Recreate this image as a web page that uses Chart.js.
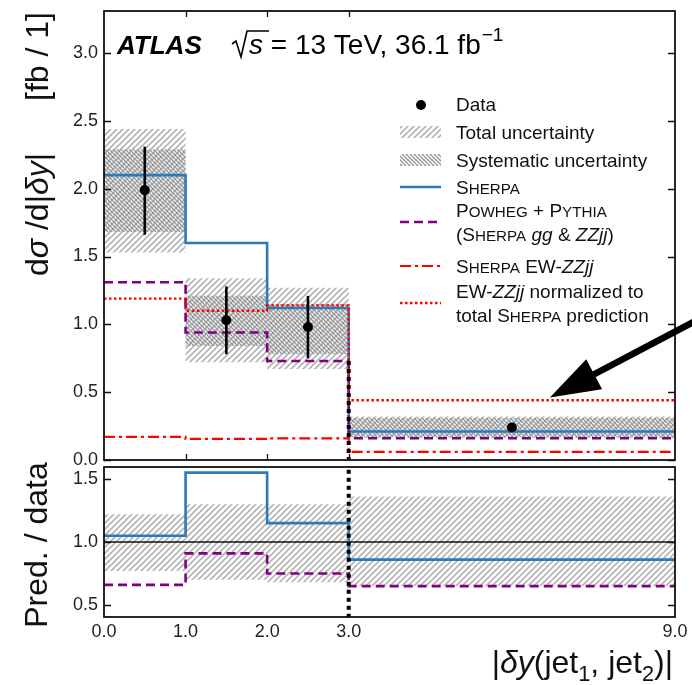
<!DOCTYPE html>
<html>
<head>
<meta charset="utf-8">
<script src="https://cdn.jsdelivr.net/npm/chart.js@4.4.1/dist/chart.umd.min.js"></script>
<style>
  body { margin: 0; background: #fff; }
  #wrap { position: relative; width: 692px; height: 685px; }
  canvas { position: absolute; left: 0; }
  #top { top: 0; }
  #ratio { top: 430px; }
</style>
</head>
<body>
<div id="wrap">
  <canvas id="top" width="692" height="465"></canvas>
  <canvas id="ratio" width="692" height="255"></canvas>
</div>
<script>
// bins in |dy(jet1, jet2)|
const binEdges = [0, 1, 2, 3, 9];
const xTickValues = [0, 1, 2, 3, 9];
const xTickLabels = ['0.0', '1.0', '2.0', '3.0', '9.0'];

// measured cross section
const dataCentres = [0.5, 1.5, 2.5, 6.0];
const dataValues = [1.99, 1.03, 0.98, 0.24];
const dataErrLow = [1.66, 0.78, 0.75, 0.22];
const dataErrHigh = [2.31, 1.28, 1.21, 0.27];

// uncertainty bands
const totalLow = [1.53, 0.72, 0.67, 0.16];
const totalHigh = [2.44, 1.34, 1.27, 0.32];
const systLow = [1.68, 0.84, 0.78, 0.17];
const systHigh = [2.29, 1.21, 1.15, 0.31];

// predictions
const sherpa = [2.10, 1.60, 1.12, 0.21];
const powheg = [1.31, 0.94, 0.73, 0.16];
const sherpaEW = [0.17, 0.155, 0.16, 0.06];
const ewNormalized = [1.19, 1.10, 1.14, 0.44];

// ratio panel
const ratioTotalLow = [0.77, 0.70, 0.68, 0.65];
const ratioTotalHigh = [1.22, 1.30, 1.30, 1.36];
const ratioSherpa = [1.05, 1.55, 1.15, 0.86];
const ratioPowheg = [0.66, 0.91, 0.75, 0.65];

const topYTicks = [0, 0.5, 1, 1.5, 2, 2.5, 3];
const topYLabels = ['0.0', '0.5', '1.0', '1.5', '2.0', '2.5', '3.0'];
const ratioYTicks = [0.5, 1, 1.5];
const ratioYLabels = ['0.5', '1.0', '1.5'];

// dotted marker at the last bin edge, and the arrow pointing at the normalized line
const cutX = 3;
const cutTop = 0.73;
const arrowFrom = { x: 9.4, y: 1.03 };
const arrowTo = { x: 6.7, y: 0.46 };

const FONT = '"Liberation Sans", Arial, Helvetica, sans-serif';
const BLUE = '#2b7bba';
const PURPLE = '#800080';
const RED = '#ff0000';

// the wide 3-9 bin is drawn compressed: 1.5 units of |dy| per axis unit
const axisX = v => (v <= 3 ? v : 3 + (v - 3) / 1.5);

function steps(values) {
  return binEdges.map((e, i) => ({ x: axisX(e), y: values[Math.min(i, values.length - 1)] }));
}

function hatch(ctx, size, color, width, dir) {
  const c = document.createElement('canvas');
  c.width = c.height = size;
  const g = c.getContext('2d');
  g.strokeStyle = color;
  g.lineWidth = width;
  g.beginPath();
  if (dir > 0) {
    g.moveTo(-1, size + 1); g.lineTo(size + 1, -1);
    g.moveTo(-1, 1); g.lineTo(1, -1);
    g.moveTo(size - 1, size + 1); g.lineTo(size + 1, size - 1);
  } else {
    g.moveTo(-1, -1); g.lineTo(size + 1, size + 1);
    g.moveTo(size - 1, -1); g.lineTo(size + 1, 1);
    g.moveTo(-1, size - 1); g.lineTo(1, size + 1);
  }
  g.stroke();
  return ctx.createPattern(c, 'repeat');
}

function segFont(s, size) {
  let sz = size;
  if (s.sc) sz = size * 0.8;
  if (s.sub || s.sup) sz = size * 0.68;
  return (s.it ? 'italic ' : '') + (s.b ? 'bold ' : '') + sz + 'px ' + FONT;
}

function richWidth(ctx, segs, size) {
  let w = 0;
  for (const s of segs) {
    ctx.font = segFont(s, size);
    w += ctx.measureText(s.t).width;
  }
  return w;
}

function drawRich(ctx, segs, x, y, size) {
  ctx.textAlign = 'left';
  ctx.textBaseline = 'alphabetic';
  for (const s of segs) {
    ctx.font = segFont(s, size);
    const dy = s.sub ? size * 0.25 : s.sup ? -size * 0.42 : 0;
    ctx.fillText(s.t, x, y + dy);
    x += ctx.measureText(s.t).width;
  }
  return x;
}

const bandStyle = { borderWidth: 0, borderColor: 'rgba(0,0,0,0)', pointRadius: 0, stepped: true };

function lineDs(values, color, dash, width, order) {
  return {
    data: steps(values), borderColor: color, borderDash: dash, borderWidth: width,
    borderCapStyle: 'butt', stepped: true, pointRadius: 0, fill: false, order: order
  };
}

function drawFrame(chart, yTicks, xTicksInside) {
  const { ctx, chartArea: a, scales } = chart;
  ctx.save();
  ctx.strokeStyle = '#111';
  ctx.lineWidth = 1.3;
  for (const v of yTicks) {
    const py = Math.round(scales.y.getPixelForValue(v)) + 0.5;
    ctx.beginPath();
    ctx.moveTo(a.left, py); ctx.lineTo(a.left + 7, py);
    ctx.moveTo(a.right, py); ctx.lineTo(a.right - 7, py);
    ctx.stroke();
  }
  for (const v of xTicksInside) {
    const px = Math.round(scales.x.getPixelForValue(axisX(v))) + 0.5;
    ctx.beginPath();
    ctx.moveTo(px, a.top); ctx.lineTo(px, a.top + 6);
    ctx.moveTo(px, a.bottom); ctx.lineTo(px, a.bottom - 6);
    ctx.stroke();
  }
  ctx.lineWidth = 1.8;
  ctx.strokeRect(a.left, a.top, a.right - a.left, a.bottom - a.top);
  ctx.restore();
}

function drawYLabels(chart, ticks, labels) {
  const { ctx, chartArea: a, scales } = chart;
  ctx.save();
  ctx.fillStyle = '#222';
  ctx.font = '18px ' + FONT;
  ctx.textAlign = 'right';
  ctx.textBaseline = 'middle';
  ticks.forEach((v, i) => ctx.fillText(labels[i], a.left - 6, scales.y.getPixelForValue(v)));
  ctx.restore();
}

/* ---------- main panel ---------- */
const topCanvas = document.getElementById('top');
const topCtx = topCanvas.getContext('2d');
const lightTop = hatch(topCtx, 6, '#b3b3b3', 1.6, 1);
const darkTop = hatch(topCtx, 4, '#969696', 1.3, -1);

const topDatasets = [
  Object.assign({ data: steps(totalLow), fill: false, order: 20 }, bandStyle),
  Object.assign({ data: steps(totalHigh), fill: '-1', backgroundColor: lightTop, order: 20 }, bandStyle),
  Object.assign({ data: steps(systLow), fill: false, order: 19 }, bandStyle),
  Object.assign({ data: steps(systHigh), fill: '-1', backgroundColor: darkTop, order: 19 }, bandStyle),
  lineDs(sherpa, BLUE, [], 2.6, 9),
  lineDs(powheg, PURPLE, [9, 5], 2.6, 8),
  lineDs(sherpaEW, RED, [11, 4, 3, 4], 2.2, 7),
  lineDs(ewNormalized, RED, [2.5, 2.5], 2.4, 6),
  {
    data: [{ x: axisX(cutX), y: cutTop }, { x: axisX(cutX), y: 0 }],
    borderColor: '#000', borderDash: [4, 4], borderWidth: 4, borderCapStyle: 'butt',
    pointRadius: 0, fill: false, order: 4
  },
  {
    data: dataCentres.map((c, i) => ({ x: axisX(c), y: dataValues[i] })),
    showLine: false, pointRadius: 5, pointBackgroundColor: '#000', pointBorderWidth: 0, order: 1
  }
];

const legendRows = [
  { y: 104, kind: 'point', lines: [[{ t: 'Data' }]] },
  { y: 132, kind: 'light', lines: [[{ t: 'Total uncertainty' }]] },
  { y: 160, kind: 'dark', lines: [[{ t: 'Systematic uncertainty' }]] },
  { y: 187, kind: 4, lines: [[{ t: 'S' }, { t: 'HERPA', sc: true }]] },
  { y: 222, kind: 5, lines: [
    [{ t: 'P' }, { t: 'OWHEG', sc: true }, { t: ' + P' }, { t: 'YTHIA', sc: true }],
    [{ t: '(S' }, { t: 'HERPA', sc: true }, { t: ' ' }, { t: 'gg', it: true }, { t: ' & ' }, { t: 'ZZjj', it: true }, { t: ')' }]
  ] },
  { y: 266, kind: 6, lines: [[{ t: 'S' }, { t: 'HERPA', sc: true }, { t: ' EW-' }, { t: 'ZZjj', it: true }]] },
  { y: 303, kind: 7, lines: [
    [{ t: 'EW-' }, { t: 'ZZjj', it: true }, { t: ' normalized to' }],
    [{ t: 'total S' }, { t: 'HERPA', sc: true }, { t: ' prediction' }]
  ] }
];

const topPlugin = {
  id: 'topPanel',
  afterDatasetsDraw(chart) {
    const { ctx, scales } = chart;
    // error bars on the data points
    ctx.save();
    ctx.strokeStyle = '#000';
    ctx.lineWidth = 2.6;
    dataCentres.forEach((c, i) => {
      const px = scales.x.getPixelForValue(axisX(c));
      ctx.beginPath();
      ctx.moveTo(px, scales.y.getPixelForValue(dataErrLow[i]));
      ctx.lineTo(px, scales.y.getPixelForValue(dataErrHigh[i]));
      ctx.stroke();
    });
    ctx.restore();
  },
  afterDraw(chart) {
    const { ctx, scales } = chart;
    drawFrame(chart, topYTicks, [1, 2, 3]);
    drawYLabels(chart, topYTicks, topYLabels);

    // y axis title, rotated
    ctx.save();
    ctx.fillStyle = '#111';
    ctx.translate(48, 0);
    ctx.rotate(-Math.PI / 2);
    drawRich(ctx, [{ t: 'd' }, { t: 'σ', it: true }, { t: ' /d|' }, { t: 'δy', it: true }, { t: '|' }], -276, 0, 32);
    ctx.font = '32px ' + FONT;
    ctx.textAlign = 'right';
    ctx.fillText('[fb / 1]', -12, 0);
    ctx.restore();

    // experiment label
    ctx.save();
    ctx.fillStyle = '#000';
    drawRich(ctx, [{ t: 'ATLAS', b: true, it: true }], 117, 54, 26);
    ctx.strokeStyle = '#000';
    ctx.lineWidth = 1.6;
    ctx.beginPath();
    ctx.moveTo(232, 44); ctx.lineTo(236, 41); ctx.lineTo(241, 57); ctx.lineTo(247, 31); ctx.lineTo(269, 31);
    ctx.stroke();
    let x = drawRich(ctx, [{ t: 's', it: true }], 249, 54, 28);
    x = drawRich(ctx, [{ t: ' = 13 TeV, 36.1 fb' }], x, 54, 28);
    drawRich(ctx, [{ t: '−1', sup: true }], x + 1, 53, 28);
    ctx.restore();

    // legend
    ctx.save();
    legendRows.forEach(row => {
      if (row.kind === 'point') {
        ctx.fillStyle = '#000';
        ctx.beginPath();
        ctx.arc(421, row.y + 1, 5, 0, Math.PI * 2);
        ctx.fill();
      } else if (row.kind === 'light' || row.kind === 'dark') {
        ctx.fillStyle = row.kind === 'light' ? lightTop : darkTop;
        ctx.fillRect(400, row.y - 6, 41, 12);
      } else {
        const ds = topDatasets[row.kind];
        ctx.strokeStyle = ds.borderColor;
        ctx.lineWidth = ds.borderWidth;
        ctx.setLineDash(ds.borderDash);
        ctx.beginPath();
        ctx.moveTo(400, row.y); ctx.lineTo(441, row.y);
        ctx.stroke();
        ctx.setLineDash([]);
      }
      ctx.fillStyle = '#111';
      const n = row.lines.length;
      row.lines.forEach((segs, i) => {
        const cy = row.y + (i - (n - 1) / 2) * 24;
        drawRich(ctx, segs, 456, cy + 7, 19);
      });
    });
    ctx.restore();

    // arrow pointing at the normalized EW-ZZjj line
    const tx = scales.x.getPixelForValue(axisX(arrowTo.x));
    const ty = scales.y.getPixelForValue(arrowTo.y);
    const fx = scales.x.getPixelForValue(axisX(arrowFrom.x));
    const fy = scales.y.getPixelForValue(arrowFrom.y);
    const ang = Math.atan2(fy - ty, fx - tx);
    const ux = Math.cos(ang), uy = Math.sin(ang);
    const hl = 50, hw = 17;
    ctx.save();
    ctx.fillStyle = '#000';
    ctx.strokeStyle = '#000';
    ctx.lineWidth = 6.5;
    ctx.beginPath();
    ctx.moveTo(tx + ux * (hl - 4), ty + uy * (hl - 4));
    ctx.lineTo(fx, fy);
    ctx.stroke();
    ctx.beginPath();
    ctx.moveTo(tx, ty);
    ctx.lineTo(tx + ux * hl - uy * hw, ty + uy * hl + ux * hw);
    ctx.lineTo(tx + ux * hl + uy * hw, ty + uy * hl - ux * hw);
    ctx.closePath();
    ctx.fill();
    ctx.restore();
  }
};

new Chart(topCtx, {
  type: 'line',
  data: { datasets: topDatasets },
  options: {
    responsive: false,
    animation: false,
    events: [],
    layout: { padding: { left: 104, right: 17, top: 11, bottom: 4 } },
    scales: {
      x: { type: 'linear', min: 0, max: 7, display: false },
      y: { type: 'linear', min: 0, max: 3.31, display: false }
    },
    plugins: { legend: { display: false }, tooltip: { enabled: false } }
  },
  plugins: [topPlugin]
});

/* ---------- ratio panel ---------- */
const ratioCanvas = document.getElementById('ratio');
const ratioCtx = ratioCanvas.getContext('2d');
const lightRatio = hatch(ratioCtx, 6, '#b3b3b3', 1.6, 1);

const ratioPlugin = {
  id: 'ratioPanel',
  afterDraw(chart) {
    const { ctx, chartArea: a, scales } = chart;
    drawFrame(chart, ratioYTicks, []);
    drawYLabels(chart, ratioYTicks, ratioYLabels);

    ctx.save();
    ctx.fillStyle = '#222';
    ctx.font = '18px ' + FONT;
    ctx.textAlign = 'center';
    ctx.textBaseline = 'middle';
    xTickValues.forEach((v, i) => {
      ctx.fillText(xTickLabels[i], scales.x.getPixelForValue(axisX(v)), a.bottom + 15);
    });

    // x axis title, right aligned
    ctx.fillStyle = '#111';
    const title = [{ t: '|' }, { t: 'δy', it: true }, { t: '(jet' }, { t: '1', sub: true },
      { t: ', jet' }, { t: '2', sub: true }, { t: ')|' }];
    const w = richWidth(ctx, title, 32);
    drawRich(ctx, title, a.right - 2 - w, a.bottom + 56, 32);

    // y axis title, rotated
    ctx.translate(47, 0);
    ctx.rotate(-Math.PI / 2);
    ctx.font = '32px ' + FONT;
    ctx.textAlign = 'center';
    ctx.textBaseline = 'alphabetic';
    ctx.fillText('Pred. / data', -(a.top + a.bottom) / 2 - 3, 0);
    ctx.restore();
  }
};

new Chart(ratioCtx, {
  type: 'line',
  data: {
    datasets: [
      Object.assign({ data: steps(ratioTotalLow), fill: false, order: 20 }, bandStyle),
      Object.assign({ data: steps(ratioTotalHigh), fill: '-1', backgroundColor: lightRatio, order: 20 }, bandStyle),
      {
        data: [{ x: 0, y: 1 }, { x: 7, y: 1 }], borderColor: '#111', borderWidth: 1.3,
        pointRadius: 0, fill: false, order: 10
      },
      lineDs(ratioSherpa, BLUE, [], 2.6, 9),
      lineDs(ratioPowheg, PURPLE, [9, 5], 2.6, 8),
      {
        data: [{ x: axisX(cutX), y: 1.7 }, { x: axisX(cutX), y: 0.3 }],
        borderColor: '#000', borderDash: [4, 4], borderWidth: 4, borderCapStyle: 'butt',
        pointRadius: 0, fill: false, order: 4
      }
    ]
  },
  options: {
    responsive: false,
    animation: false,
    events: [],
    layout: { padding: { left: 104, right: 17, top: 37, bottom: 68 } },
    scales: {
      x: { type: 'linear', min: 0, max: 7, display: false },
      y: { type: 'linear', min: 0.405, max: 1.595, display: false }
    },
    plugins: { legend: { display: false }, tooltip: { enabled: false } }
  },
  plugins: [ratioPlugin]
});
</script>
</body>
</html>
